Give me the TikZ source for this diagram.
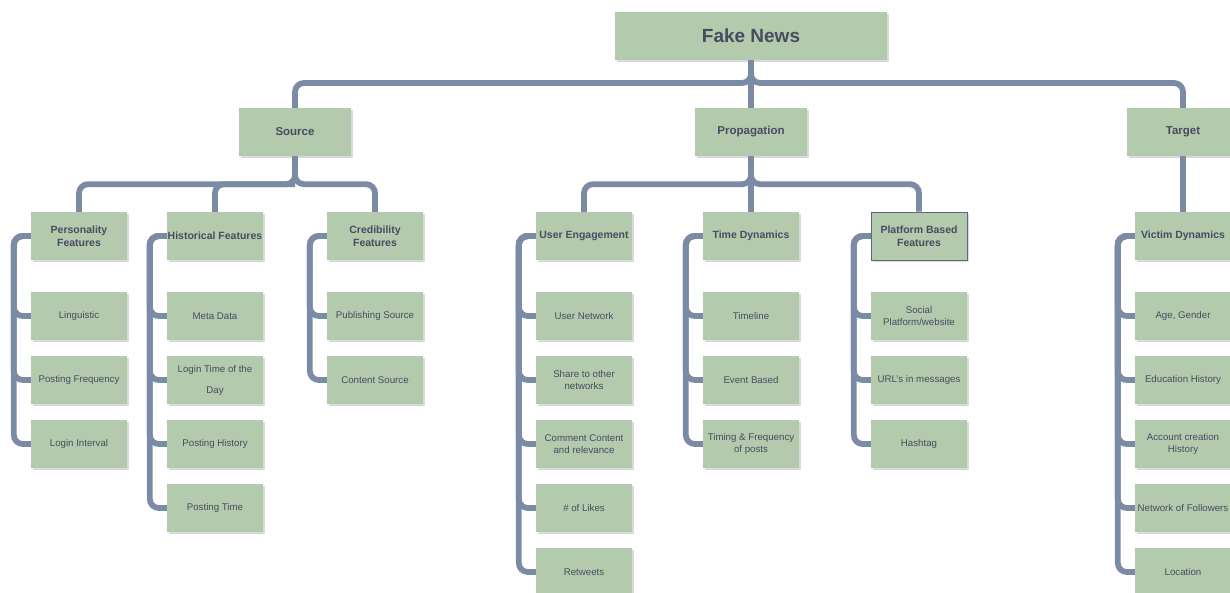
\documentclass[tikz,border=0pt]{standalone}
\usepackage{fontspec}
\setmainfont{Liberation Sans}
\usetikzlibrary{shadows}

\definecolor{boxgreen}{RGB}{180,202,172}
\definecolor{linkblue}{RGB}{123,139,166}
\definecolor{inkgray}{RGB}{70,76,98}

\tikzset{
  box/.style={fill=boxgreen, text=inkgray, align=center, inner sep=0pt,
    drop shadow={shadow xshift=1.6pt, shadow yshift=-1.6pt, opacity=0.3, fill=gray}},
  rootbox/.style={box, minimum width=272pt, minimum height=48pt,
    font=\fontsize{19}{22}\selectfont\bfseries},
  topicbox/.style={box, minimum width=112pt, minimum height=48pt,
    font=\fontsize{11.5}{13}\selectfont\bfseries},
  groupbox/.style={box, minimum width=96pt, minimum height=48pt,
    font=\fontsize{10.5}{12.5}\selectfont\bfseries},
  leafbox/.style={box, minimum width=96pt, minimum height=48pt,
    font=\fontsize{9.7}{12}\selectfont},
  link/.style={draw=linkblue, line width=5.8pt, rounded corners=9pt}
}

\begin{document}
\begin{tikzpicture}[x=1pt,y=1pt]
\clip (0,0) rectangle (1230,-593);
% root and main branches
\node[rootbox] (fake) at (751,-36) {Fake News};
\node[topicbox] (src) at (295,-132) {Source};
\node[topicbox] (prop) at (751,-132) {Propagation};
\node[topicbox] (tgt) at (1183,-132) {Target};
\draw[link] (fake.south) -- (751,-83) -| (src.north);
\draw[link] (fake.south) -- (751,-83) -| (tgt.north);
\draw[link] (fake.south) -- (prop.north);
% source
\node[groupbox] (pers) at (79,-236) {Personality\\Features};
\node[groupbox] (hist) at (215,-236) {Historical Features};
\node[groupbox] (cred) at (375,-236) {Credibility\\Features};
\draw[link] (src.south) -- ++(0,-28) -| (pers.north);
\draw[link] (src.south) -- ++(0,-28) -| (cred.north);
\draw[link] (src.south) ++(0,-28) -| (hist.north);
\node[leafbox] (ling) at (79,-316) {Linguistic};
\node[leafbox] (pfreq) at (79,-380) {Posting Frequency};
\node[leafbox] (lint) at (79,-444) {Login Interval};
\draw[link] (pers.west) -- ++(-17,0) |- (ling.west);
\draw[link] (pers.west) -- ++(-17,0) |- (pfreq.west);
\draw[link] (pers.west) -- ++(-17,0) |- (lint.west);
\node[leafbox] (meta) at (215,-316) {Meta Data};
\node[leafbox] (ltime) at (215,-380) {Login Time of the\\[9pt]Day};
\node[leafbox] (phist) at (215,-444) {Posting History};
\node[leafbox] (ptime) at (215,-508) {Posting Time};
\draw[link] (hist.west) -- ++(-17,0) |- (meta.west);
\draw[link] (hist.west) -- ++(-17,0) |- (ltime.west);
\draw[link] (hist.west) -- ++(-17,0) |- (phist.west);
\draw[link] (hist.west) -- ++(-17,0) |- (ptime.west);
\node[leafbox] (pubsrc) at (375,-316) {Publishing Source};
\node[leafbox] (consrc) at (375,-380) {Content Source};
\draw[link] (cred.west) -- ++(-17,0) |- (pubsrc.west);
\draw[link] (cred.west) -- ++(-17,0) |- (consrc.west);
% propagation
\node[groupbox] (ueng) at (584,-236) {User Engagement};
\node[groupbox] (tdyn) at (751,-236) {Time Dynamics};
\node[groupbox, draw=linkblue!75!black, line width=0.5pt] (plat) at (919,-236) {Platform Based\\Features};
\draw[link] (prop.south) -- ++(0,-28) -| (ueng.north);
\draw[link] (prop.south) -- ++(0,-28) -| (plat.north);
\draw[link] (prop.south) -- (tdyn.north);
\node[leafbox] (unet) at (584,-316) {User Network};
\node[leafbox] (share) at (584,-380) {Share to other\\networks};
\node[leafbox] (comm) at (584,-444) {Comment Content\\and relevance};
\node[leafbox] (likes) at (584,-508) {\# of Likes};
\node[leafbox] (rtw) at (584,-572) {Retweets};
\draw[link] (ueng.west) -- ++(-17,0) |- (unet.west);
\draw[link] (ueng.west) -- ++(-17,0) |- (share.west);
\draw[link] (ueng.west) -- ++(-17,0) |- (comm.west);
\draw[link] (ueng.west) -- ++(-17,0) |- (likes.west);
\draw[link] (ueng.west) -- ++(-17,0) |- (rtw.west);
\node[leafbox] (tline) at (751,-316) {Timeline};
\node[leafbox] (event) at (751,-380) {Event Based};
\node[leafbox] (tfreq) at (751,-444) {Timing \& Frequency\\of posts};
\draw[link] (tdyn.west) -- ++(-17,0) |- (tline.west);
\draw[link] (tdyn.west) -- ++(-17,0) |- (event.west);
\draw[link] (tdyn.west) -- ++(-17,0) |- (tfreq.west);
\node[leafbox] (social) at (919,-316) {Social\\Platform/website};
\node[leafbox] (urls) at (919,-380) {URL's in messages};
\node[leafbox] (hash) at (919,-444) {Hashtag};
\draw[link] (plat.west) -- ++(-17,0) |- (social.west);
\draw[link] (plat.west) -- ++(-17,0) |- (urls.west);
\draw[link] (plat.west) -- ++(-17,0) |- (hash.west);
% target
\node[groupbox] (vict) at (1183,-236) {Victim Dynamics};
\draw[link] (tgt.south) -- (vict.north);
\node[leafbox] (age) at (1183,-316) {Age, Gender};
\node[leafbox] (edu) at (1183,-380) {Education History};
\node[leafbox] (acct) at (1183,-444) {Account creation\\History};
\node[leafbox] (follow) at (1183,-508) {Network of Followers};
\node[leafbox] (loc) at (1183,-572) {Location};
\draw[link] (vict.west) -- ++(-17,0) |- (age.west);
\draw[link] (vict.west) -- ++(-17,0) |- (edu.west);
\draw[link] (vict.west) -- ++(-17,0) |- (acct.west);
\draw[link] (vict.west) -- ++(-17,0) |- (follow.west);
\draw[link] (vict.west) -- ++(-17,0) |- (loc.west);
\end{tikzpicture}
\end{document}
